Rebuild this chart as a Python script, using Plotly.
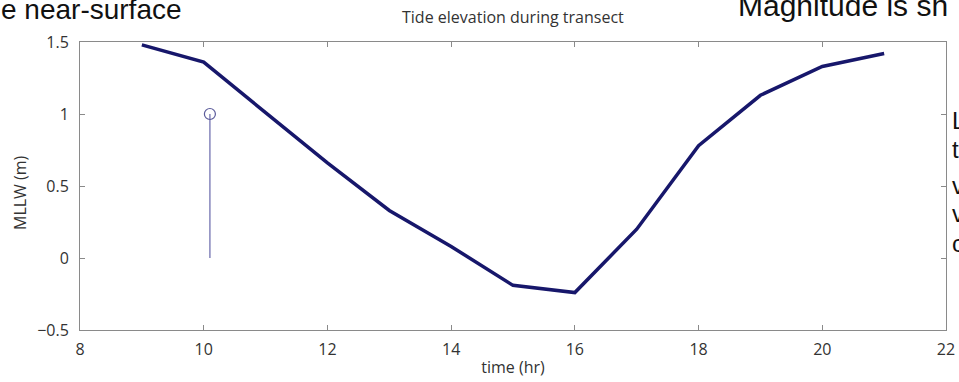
import plotly.graph_objects as go

# Data
time_hr = [9, 10, 11, 12, 13, 14, 15, 16, 17, 18, 19, 20, 21]
mllw_m = [1.48, 1.36, 1.01, 0.66, 0.33, 0.08, -0.19, -0.24, 0.20, 0.78, 1.13, 1.33, 1.42]

stem_time = [10.1]
stem_value = [1.0]

x_ticks = [8, 10, 12, 14, 16, 18, 20, 22]
y_ticks = [-0.5, 0, 0.5, 1, 1.5]
y_tick_text = ["\u22120.5", "0", "0.5", "1", "1.5"]

W, H = 959, 382
L, R, T, B = 80, 13, 42, 52
TXT = "#333333"
FONT = "Open Sans"

fig = go.Figure()

# stem line
fig.add_trace(go.Scatter(
    x=[stem_time[0], stem_time[0]], y=[0, stem_value[0]],
    mode="lines", line=dict(color="#8585bb", width=1.5),
    showlegend=False, hoverinfo="skip"))
fig.add_trace(go.Scatter(
    x=stem_time, y=stem_value, mode="markers",
    marker=dict(symbol="circle-open", size=11, color="#5a5a9a", line=dict(width=1.2)),
    showlegend=False))

fig.add_trace(go.Scatter(
    x=time_hr, y=mllw_m, mode="lines",
    line=dict(color="#17176b", width=3.5),
    showlegend=False))

axis_common = dict(
    showline=True, linecolor="#8a8a8a", linewidth=1, mirror="ticks",
    ticks="inside", ticklen=5, tickcolor="#8a8a8a", tickwidth=1,
    showgrid=False, zeroline=False, automargin=False,
    tickfont=dict(family=FONT, size=16, color=TXT),
)

fig.update_xaxes(range=[8, 22], tickvals=x_ticks, ticklabelstandoff=5, **axis_common,
                 title=dict(text="time (hr)", font=dict(family=FONT, size=16, color=TXT), standoff=2))
fig.update_yaxes(range=[-0.5, 1.5], tickvals=y_ticks, ticktext=y_tick_text, ticklabelstandoff=7, **axis_common)


def px(xp):
    return (xp - L) / (W - L - R)


def py(yp):
    return 1 - (yp - T) / (H - T - B)


annotations = [
    dict(text="Tide elevation during transect", x=0.5, y=py(17), xref="paper", yref="paper",
         xanchor="center", yanchor="middle", showarrow=False,
         font=dict(family=FONT, size=16, color=TXT)),
    dict(text="MLLW (m)", x=px(20), y=py(193), xref="paper", yref="paper", textangle=-90,
         xanchor="center", yanchor="middle", showarrow=False,
         font=dict(family=FONT, size=16, color=TXT)),
    dict(text="e near-surface", x=px(-1), y=py(27), xref="paper", yref="paper",
         xanchor="left", yanchor="bottom", showarrow=False,
         font=dict(family="Liberation Sans, Arial", size=28, color="#111111")),
    dict(text="Magnitude is sh", x=px(736), y=py(24), xref="paper", yref="paper",
         xanchor="left", yanchor="bottom", showarrow=False,
         font=dict(family="Liberation Sans, Arial", size=30, color="#111111")),
]
for letter, yb in zip(["L", "t", "v", "v", "c"], [136, 165, 201, 229, 259]):
    annotations.append(dict(text=letter, x=px(950), y=py(yb), xref="paper", yref="paper",
                            xanchor="left", yanchor="bottom", showarrow=False,
                            font=dict(family="Liberation Sans, Arial", size=24, color="#111111")))

fig.update_layout(
    width=W, height=H,
    margin=dict(l=L, r=R, t=T, b=B),
    plot_bgcolor="white", paper_bgcolor="white",
    annotations=annotations,
)

fig.write_html("out.html", config={"displayModeBar": False},
               post_script="document.body.style.margin='0';")
